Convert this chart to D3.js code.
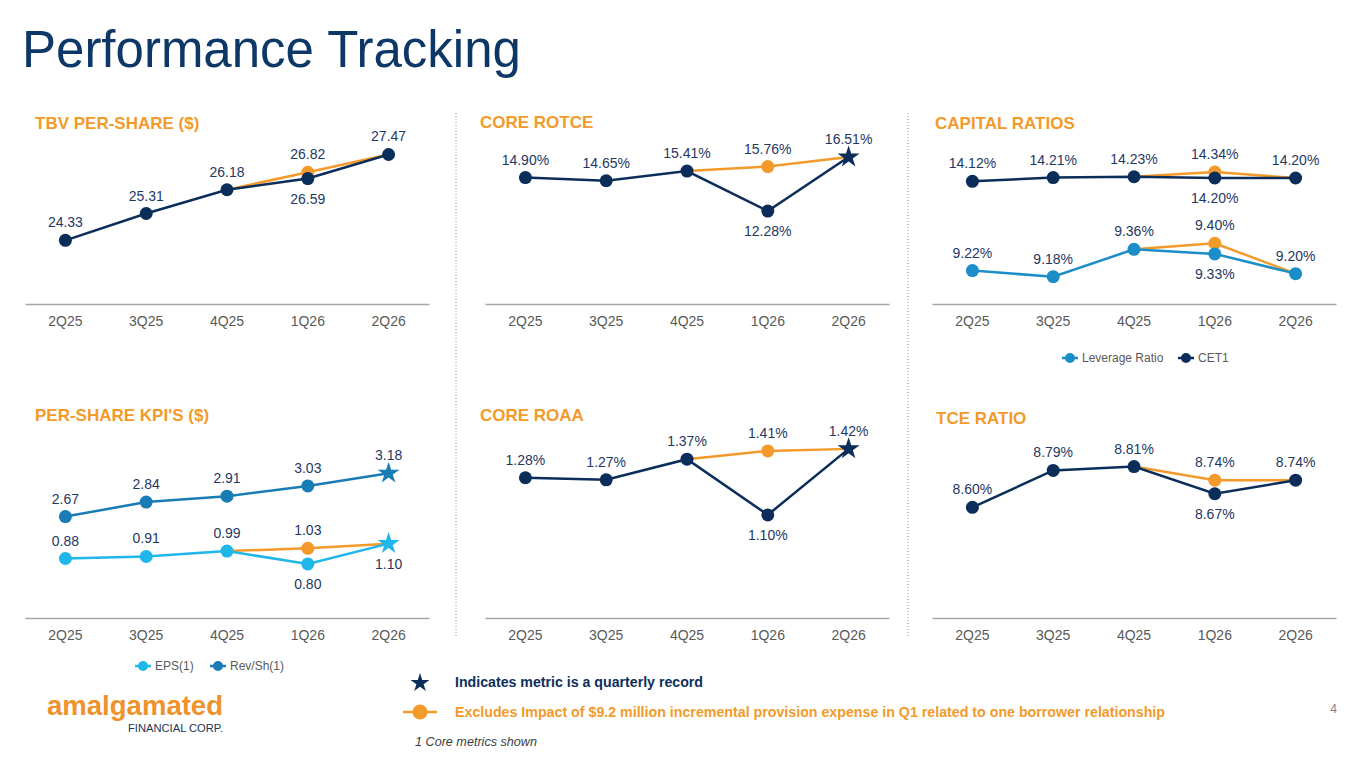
<!DOCTYPE html>
<html>
<head>
<meta charset="utf-8">
<script src="https://cdn.jsdelivr.net/npm/d3@7/dist/d3.min.js"></script>
<style>
    body { margin: 0; background: #fff; font-family: "Liberation Sans", Arial, sans-serif; }
    .tick text { font-size: 14px; fill: #595959; font-family: "Liberation Sans", Arial, sans-serif; }
    .axis path { stroke: #a6a6a6; stroke-width: 1.5px; }
    .lbl { font-size: 14px; fill: #1f3864; text-anchor: middle; }
    .ptitle { font-size: 17px; font-weight: bold; fill: #f39a2b; }
    .legtext { font-size: 12px; fill: #595959; }
</style>
</head>
<body>
<div id="chart"></div>
<script>

// DATA
var quarters = ["2Q25", "3Q25", "4Q25", "1Q26", "2Q26"];

var tbvPerShare   = [24.33, 25.31, 26.18, 26.59, 27.47];
var coreRotce     = [14.90, 14.65, 15.41, 12.28, 16.51];
var cet1          = [14.12, 14.21, 14.23, 14.20, 14.20];
var leverageRatio = [9.22, 9.18, 9.36, 9.33, 9.20];
var eps           = [0.88, 0.91, 0.99, 0.80, 1.10];
var revPerShare   = [2.67, 2.84, 2.91, 3.03, 3.18];
var coreRoaa      = [1.28, 1.27, 1.37, 1.10, 1.42];
var tceRatio      = [8.60, 8.79, 8.81, 8.67, 8.74];

// 1Q26 values excluding the $9.2 million provision
var adjQuarter   = "1Q26";
var tbvAdj       = 26.82;
var rotceAdj     = 15.76;
var cet1Adj      = 14.34;
var leverageAdj  = 9.40;
var epsAdj       = 1.03;
var roaaAdj      = 1.41;
var tceAdj       = 8.74;

var recordQuarter = "2Q26";

// COLORS
var NAVY = "#0b2d5a",
    ORANGE = "#f39a2b",
    EPS_BLUE = "#1fb6ea",
    REV_BLUE = "#1a7cb4",
    LEV_BLUE = "#1b8dc8";

var width = 1365, height = 768;

var svg = d3.select("#chart").append("svg")
    .attr("width", width)
    .attr("height", height);

// title
svg.append("text")
    .attr("x", 22)
    .attr("y", 67)
    .attr("font-size", 51)
    .attr("fill", "#0d3767")
    .text("Performance Tracking");

// dotted separators
[456, 908].forEach(function (x) {
    svg.append("line")
        .attr("x1", x).attr("x2", x)
        .attr("y1", 113).attr("y2", 636)
        .attr("stroke", "#9a9a9a")
        .attr("stroke-width", 1)
        .attr("stroke-dasharray", "1,2");
});

function pct(v) { return d3.format(".2f")(v) + "%"; }
function num(v) { return d3.format(".2f")(v); }

function drawPanel(cfg) {
    var g = svg.append("g");

    g.append("text")
        .attr("class", "ptitle")
        .attr("x", cfg.titleX)
        .attr("y", cfg.titleY)
        .text(cfg.title);

    var x = d3.scaleBand().domain(quarters).range(cfg.xRange).padding(0);
    var cx = function (q) { return x(q) + x.bandwidth() / 2; };

    g.append("g")
        .attr("class", "axis")
        .attr("transform", "translate(0," + cfg.axisY + ")")
        .call(d3.axisBottom(x).tickSize(0).tickPadding(12).tickSizeOuter(0));

    var lineLayer = g.append("g"),
        mainLayer = g.append("g"),
        labelLayer = g.append("g");

    cfg.series.forEach(function (s) {
        var pts = quarters.map(function (q, i) { return {q: q, v: s.values[i]}; });
        var line = d3.line()
            .x(function (d) { return cx(d.q); })
            .y(function (d) { return s.y(d.v); });

        // orange "excluding impact" path: 4Q25 -> adjusted 1Q26 -> 2Q26
        if (s.adj !== undefined) {
            var ai = quarters.indexOf(adjQuarter);
            var adjPts = [pts[ai - 1], {q: adjQuarter, v: s.adj}, pts[ai + 1]];
            lineLayer.append("path")
                .attr("d", line(adjPts))
                .attr("fill", "none")
                .attr("stroke", ORANGE)
                .attr("stroke-width", 2.5);
            lineLayer.append("circle")
                .attr("cx", cx(adjQuarter))
                .attr("cy", s.y(s.adj))
                .attr("r", 6.5)
                .attr("fill", ORANGE);
            labelLayer.append("text")
                .attr("class", "lbl")
                .attr("x", cx(adjQuarter))
                .attr("y", s.y(s.adj) - 13)
                .text(s.fmt(s.adj));
        }

        mainLayer.append("path")
            .attr("d", line(pts))
            .attr("fill", "none")
            .attr("stroke", s.color)
            .attr("stroke-width", 2.5);

        pts.forEach(function (d) {
            var isStar = s.star && d.q === recordQuarter;
            if (isStar) {
                mainLayer.append("path")
                    .attr("d", d3.symbol().type(d3.symbolStar).size(150)())
                    .attr("transform", "translate(" + cx(d.q) + "," + s.y(d.v) + ")")
                    .attr("fill", s.color);
            } else {
                mainLayer.append("circle")
                    .attr("cx", cx(d.q))
                    .attr("cy", s.y(d.v))
                    .attr("r", 6.5)
                    .attr("fill", s.color);
            }
            var below = s.below.indexOf(d.q) >= 0;
            labelLayer.append("text")
                .attr("class", "lbl")
                .attr("x", cx(d.q))
                .attr("y", s.y(d.v) + (below ? 25 : -13))
                .text(s.fmt(d.v));
        });
    });

    // legend
    if (cfg.legend) {
        cfg.legend.items.forEach(function (it) {
            var lg = g.append("g").attr("transform", "translate(" + it.x + "," + cfg.legend.y + ")");
            lg.append("line")
                .attr("x1", -8).attr("x2", 8)
                .attr("stroke", it.color).attr("stroke-width", 2.5);
            lg.append("circle").attr("r", 5).attr("fill", it.color);
            lg.append("text")
                .attr("class", "legtext")
                .attr("x", 12)
                .attr("y", 4)
                .text(it.label);
        });
    }
}

var LEFT = [25, 429], MID = [485, 889], RIGHT = [932, 1336];

drawPanel({
    title: "TBV PER-SHARE ($)", titleX: 35, titleY: 129,
    xRange: LEFT, axisY: 304,
    series: [
        {values: tbvPerShare, adj: tbvAdj, color: NAVY, fmt: num, below: ["1Q26"],
         y: d3.scaleLinear().domain([22, 28]).range([304, 140])}
    ]
});

drawPanel({
    title: "CORE ROTCE", titleX: 480, titleY: 128,
    xRange: MID, axisY: 304,
    series: [
        {values: coreRotce, adj: rotceAdj, color: NAVY, fmt: pct, below: ["1Q26"], star: true,
         y: d3.scaleLinear().domain([5, 18]).range([304, 138])}
    ]
});

drawPanel({
    title: "CAPITAL RATIOS", titleX: 935, titleY: 129,
    xRange: RIGHT, axisY: 304,
    series: [
        {values: leverageRatio, adj: leverageAdj, color: LEV_BLUE, fmt: pct, below: ["1Q26"],
         y: d3.scaleLinear().domain([9.0, 10.1]).range([304, 137])},
        {values: cet1, adj: cet1Adj, color: NAVY, fmt: pct, below: ["1Q26"],
         y: d3.scaleLinear().domain([11.2, 15.2]).range([304, 136])}
    ],
    legend: {y: 358, items: [
        {x: 1070, color: LEV_BLUE, label: "Leverage Ratio"},
        {x: 1186, color: NAVY, label: "CET1"}
    ]}
});

drawPanel({
    title: "PER-SHARE KPI'S ($)", titleX: 35, titleY: 421,
    xRange: LEFT, axisY: 618,
    series: [
        {values: revPerShare, color: REV_BLUE, fmt: num, below: [], star: true,
         y: d3.scaleLinear().domain([1.5, 3.5]).range([616, 446])},
        {values: eps, adj: epsAdj, color: EPS_BLUE, fmt: num, below: ["1Q26", "2Q26"], star: true,
         y: d3.scaleLinear().domain([0, 2.5]).range([618, 449])}
    ],
    legend: {y: 666, items: [
        {x: 143, color: EPS_BLUE, label: "EPS(1)"},
        {x: 218, color: REV_BLUE, label: "Rev/Sh(1)"}
    ]}
});

drawPanel({
    title: "CORE ROAA", titleX: 480, titleY: 421,
    xRange: MID, axisY: 618,
    series: [
        {values: coreRoaa, adj: roaaAdj, color: NAVY, fmt: pct, below: ["1Q26"], star: true,
         y: d3.scaleLinear().domain([0.6, 1.4]).range([618, 453])}
    ]
});

drawPanel({
    title: "TCE RATIO", titleX: 936, titleY: 424,
    xRange: RIGHT, axisY: 618,
    series: [
        {values: tceRatio, adj: tceAdj, color: NAVY, fmt: pct, below: ["1Q26"],
         y: d3.scaleLinear().domain([8.03, 8.88]).range([618, 453])}
    ]
});

// footnotes / legend
svg.append("path")
    .attr("d", d3.symbol().type(d3.symbolStar).size(110)())
    .attr("transform", "translate(420,683)")
    .attr("fill", NAVY);
svg.append("text")
    .attr("x", 455).attr("y", 687)
    .attr("font-size", 14).attr("font-weight", "bold")
    .attr("fill", "#0d2f5c")
    .attr("textLength", 248).attr("lengthAdjust", "spacingAndGlyphs")
    .text("Indicates metric is a quarterly record");

svg.append("line")
    .attr("x1", 403).attr("x2", 437)
    .attr("y1", 712).attr("y2", 712)
    .attr("stroke", ORANGE).attr("stroke-width", 2.5);
svg.append("circle")
    .attr("cx", 420).attr("cy", 712).attr("r", 7.5)
    .attr("fill", ORANGE);
svg.append("text")
    .attr("x", 455).attr("y", 717)
    .attr("font-size", 14).attr("font-weight", "bold")
    .attr("fill", ORANGE)
    .attr("textLength", 710).attr("lengthAdjust", "spacingAndGlyphs")
    .text("Excludes Impact of $9.2 million incremental provision expense in Q1 related to one borrower relationship");

svg.append("text")
    .attr("x", 415).attr("y", 746)
    .attr("font-size", 13).attr("font-style", "italic")
    .attr("fill", "#404040")
    .attr("textLength", 122).attr("lengthAdjust", "spacingAndGlyphs")
    .text("1 Core metrics shown");

// page number
svg.append("text")
    .attr("x", 1337).attr("y", 713)
    .attr("font-size", 12)
    .attr("fill", "#7f7f7f")
    .attr("text-anchor", "end")
    .text("4");

// logo
svg.append("text")
    .attr("x", 47).attr("y", 715)
    .attr("font-size", 27).attr("font-weight", "bold")
    .attr("fill", "#f0922b")
    .attr("textLength", 176).attr("lengthAdjust", "spacingAndGlyphs")
    .text("amalgamated");
svg.append("text")
    .attr("x", 128).attr("y", 732)
    .attr("font-size", 10.5)
    .attr("fill", "#1d3557")
    .attr("textLength", 95).attr("lengthAdjust", "spacingAndGlyphs")
    .text("FINANCIAL CORP.");

</script>
</body>
</html>
